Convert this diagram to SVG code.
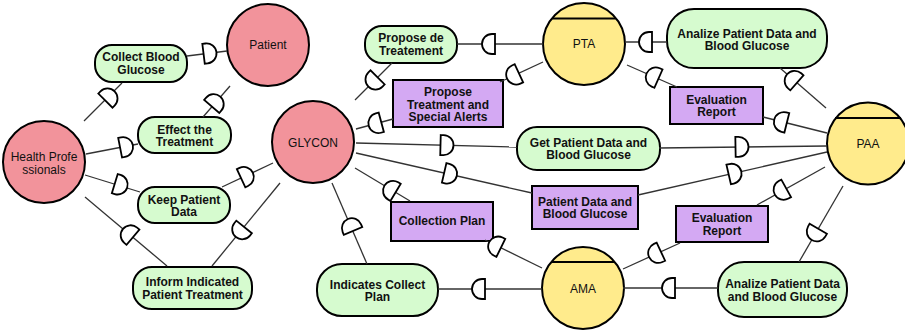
<svg xmlns="http://www.w3.org/2000/svg" width="905" height="332" viewBox="0 0 905 332">
<style>
.actor{fill:#f2939b;stroke:#000;stroke-width:2}
.agent{fill:#ffeb8c;stroke:#000;stroke-width:2}
.goal{fill:#d6fbcf;stroke:#000;stroke-width:2}
.res{fill:#d4a9f3;stroke:#000;stroke-width:2}
.chord{stroke:#000;stroke-width:2}
.t{font-family:"Liberation Sans",Arial,sans-serif;font-size:12px;fill:#111;text-anchor:middle}
.b{font-weight:bold}
.ln{stroke:#333;stroke-width:1.3;fill:none}
.dm{fill:#fff;stroke:#000;stroke-width:1.8}
</style>
<defs>
<path id="d" class="dm" d="M -6.5,-10 L -3.5,-10 A 10 10 0 0 1 -3.5,10 L -6.5,10 Z"/>
</defs>

<g id="node-hp"><circle class="actor" cx="44" cy="162" r="41"/><text class="t" x="44" y="161">Health Profe</text><text class="t" x="44" y="173.6">ssionals</text></g>
<g id="node-patient"><circle class="actor" cx="268" cy="45" r="41"/><text class="t" x="268" y="48.6">Patient</text></g>
<g id="node-glycon"><circle class="actor" cx="313" cy="142" r="41"/><text class="t" x="313" y="147.3">GLYCON</text></g>
<g id="node-pta"><circle class="agent" cx="584" cy="44" r="41"/><line class="chord" x1="552.5" y1="18.5" x2="615.5" y2="18.5"/><text class="t" x="584" y="47.6">PTA</text></g>
<g id="node-paa"><circle class="agent" cx="868" cy="143.5" r="41"/><line class="chord" x1="835" y1="118" x2="901" y2="118"/><text class="t" x="868" y="148.3">PAA</text></g>
<g id="node-ama"><circle class="agent" cx="583" cy="288" r="41"/><line class="chord" x1="551.3" y1="262" x2="614.7" y2="262"/><text class="t" x="583" y="292.6">AMA</text></g>

<g id="node-collect"><rect class="goal" x="95" y="45" width="92" height="37" rx="17"/><text class="t b" x="141" y="61.4">Collect Blood</text><text class="t b" x="141" y="74.1">Glucose</text></g>
<g id="node-effect"><rect class="goal" x="138" y="117" width="93" height="36" rx="17"/><text class="t b" x="184.5" y="133.6">Effect the</text><text class="t b" x="184.5" y="146">Treatment</text></g>
<g id="node-keep"><rect class="goal" x="138" y="187" width="92" height="36" rx="17"/><text class="t b" x="184" y="203.6">Keep Patient</text><text class="t b" x="184" y="216">Data</text></g>
<g id="node-inform"><rect class="goal" x="133" y="267" width="119" height="42" rx="19"/><text class="t b" x="192.5" y="286">Inform Indicated</text><text class="t b" x="192.5" y="298.5">Patient Treatment</text></g>
<g id="node-propose"><rect class="goal" x="365" y="26" width="92" height="37" rx="17"/><text class="t b" x="411" y="41.6">Propose de</text><text class="t b" x="411" y="55">Treatement</text></g>
<g id="node-get"><rect class="goal" x="517" y="127" width="143" height="43" rx="20"/><text class="t b" x="588.5" y="146.5">Get Patient Data and</text><text class="t b" x="588.5" y="159">Blood Glucose</text></g>
<g id="node-analize1"><rect class="goal" x="667" y="9" width="160" height="59" rx="27"/><text class="t b" x="747" y="37.6">Analize Patient Data and</text><text class="t b" x="747" y="50.1">Blood Glucose</text></g>
<g id="node-indicates"><rect class="goal" x="317" y="264" width="121" height="52" rx="25"/><text class="t b" x="377.5" y="288.6">Indicates Collect</text><text class="t b" x="377.5" y="301.1">Plan</text></g>
<g id="node-analize2"><rect class="goal" x="718" y="262" width="129" height="55" rx="26"/><text class="t b" x="782.5" y="288.2">Analize Patient Data</text><text class="t b" x="782.5" y="300.7">and Blood Glucose</text></g>

<g id="node-ptsa"><rect class="res" x="393" y="80" width="110" height="47"/><text class="t b" x="448" y="96">Propose</text><text class="t b" x="448" y="108.5">Treatment and</text><text class="t b" x="448" y="121">Special Alerts</text></g>
<g id="node-er1"><rect class="res" x="670" y="87" width="93" height="37"/><text class="t b" x="716.5" y="103.6">Evaluation</text><text class="t b" x="716.5" y="116.3">Report</text></g>
<g id="node-cp"><rect class="res" x="391" y="202" width="102" height="39"/><text class="t b" x="442" y="225.3">Collection Plan</text></g>
<g id="node-pdbg"><rect class="res" x="532" y="186" width="106" height="43"/><text class="t b" x="585" y="205.6">Patient Data and</text><text class="t b" x="585" y="218.1">Blood Glucose</text></g>
<g id="node-er2"><rect class="res" x="676" y="206" width="92" height="36"/><text class="t b" x="722" y="222.2">Evaluation</text><text class="t b" x="722" y="234.7">Report</text></g>

<g id="connectors">
<line class="ln" x1="84" y1="121" x2="122" y2="83"/>
<line class="ln" x1="187" y1="56" x2="227" y2="51"/>
<line class="ln" x1="86" y1="154" x2="138" y2="144"/>
<line class="ln" x1="203" y1="117" x2="230" y2="86"/>
<line class="ln" x1="85" y1="175" x2="140" y2="192"/>
<line class="ln" x1="222" y1="187" x2="273" y2="163"/>
<line class="ln" x1="85" y1="197" x2="167" y2="266"/>
<line class="ln" x1="212" y1="266" x2="280" y2="183"/>
<line class="ln" x1="355" y1="100" x2="392" y2="63"/>
<line class="ln" x1="356" y1="129" x2="393" y2="119"/>
<line class="ln" x1="457" y1="44" x2="543" y2="44"/>
<line class="ln" x1="500" y1="82" x2="543" y2="62"/>
<line class="ln" x1="356" y1="143" x2="517" y2="147"/>
<line class="ln" x1="356" y1="153" x2="532" y2="193"/>
<line class="ln" x1="355" y1="168" x2="410" y2="201"/>
<line class="ln" x1="332" y1="183" x2="367" y2="264"/>
<line class="ln" x1="485" y1="240" x2="542" y2="268"/>
<line class="ln" x1="438" y1="289" x2="542" y2="289"/>
<line class="ln" x1="625" y1="42" x2="667" y2="42"/>
<line class="ln" x1="627" y1="65" x2="677" y2="87"/>
<line class="ln" x1="780" y1="68" x2="826" y2="108"/>
<line class="ln" x1="763" y1="117" x2="827" y2="133"/>
<line class="ln" x1="659" y1="148" x2="827" y2="146"/>
<line class="ln" x1="638" y1="195" x2="827" y2="152"/>
<line class="ln" x1="757" y1="205" x2="825" y2="167"/>
<line class="ln" x1="799" y1="262" x2="843" y2="186"/>
<line class="ln" x1="623" y1="269" x2="680" y2="243"/>
<line class="ln" x1="623" y1="288" x2="718" y2="288"/>

<use href="#d" transform="translate(110,96) rotate(-45)"/>
<use href="#d" transform="translate(210,53) rotate(-7)"/>
<use href="#d" transform="translate(126.5,146.5) rotate(-11)"/>
<use href="#d" transform="translate(216,101.5) rotate(-49)"/>
<use href="#d" transform="translate(121,185.5) rotate(17)"/>
<use href="#d" transform="translate(247,175.5) rotate(-25)"/>
<use href="#d" transform="translate(128,233) rotate(-140)"/>
<use href="#d" transform="translate(240,232) rotate(129)"/>
<use href="#d" transform="translate(373,82) rotate(135)"/>
<use href="#d" transform="translate(375,124) rotate(165)"/>
<use href="#d" transform="translate(488.5,44) rotate(180)"/>
<use href="#d" transform="translate(513,76) rotate(155)"/>
<use href="#d" transform="translate(447,145.2) rotate(1.4)"/>
<use href="#d" transform="translate(450.5,174.3) rotate(13)"/>
<use href="#d" transform="translate(390,189) rotate(-149)"/>
<use href="#d" transform="translate(350.5,225) rotate(-113)"/>
<use href="#d" transform="translate(495,245) rotate(-154)"/>
<use href="#d" transform="translate(478.5,289) rotate(180)"/>
<use href="#d" transform="translate(645.5,42) rotate(180)"/>
<use href="#d" transform="translate(652.5,76) rotate(-156)"/>
<use href="#d" transform="translate(792,78.5) rotate(-139)"/>
<use href="#d" transform="translate(780.5,121.3) rotate(-166)"/>
<use href="#d" transform="translate(742,146.8) rotate(-1)"/>
<use href="#d" transform="translate(735,173) rotate(-13)"/>
<use href="#d" transform="translate(780.5,191.5) rotate(151)"/>
<use href="#d" transform="translate(815,234.4) rotate(120)"/>
<use href="#d" transform="translate(655,254.4) rotate(155)"/>
<use href="#d" transform="translate(668.5,288) rotate(180)"/>
</g>
</svg>
